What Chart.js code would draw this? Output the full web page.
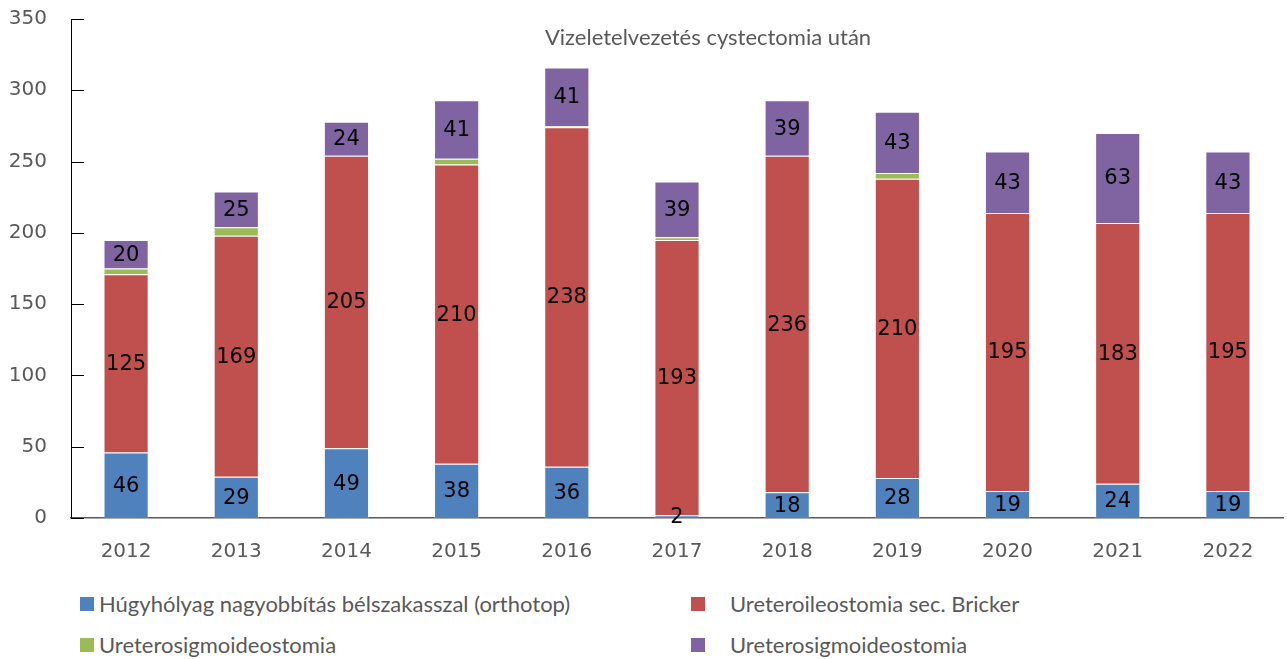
<!DOCTYPE html>
<html>
<head>
<meta charset="utf-8">
<script src="https://cdn.jsdelivr.net/npm/chart.js@4"></script>
<style>
  body { margin: 0; background: #fff; }
  #wrap { position: absolute; left: 0; top: 0; width: 1287px; height: 580px; }
  .leg { position: absolute; font: 22px Lato, sans-serif; color: #595959; white-space: nowrap; line-height: 26px; }
  .leg span { position: absolute; width: 14px; height: 14px; left: 0; top: 6px; }
</style>
</head>
<body>
<div id="wrap"><canvas id="chart" width="1287" height="580"></canvas></div>
<div id="legend"></div>
<script>
const years = ['2012', '2013', '2014', '2015', '2016', '2017', '2018', '2019', '2020', '2021', '2022'];
const orthotop = [46, 29, 49, 38, 36, 2, 18, 28, 19, 24, 19];
const bricker = [125, 169, 205, 210, 238, 193, 236, 210, 195, 183, 195];
const sigmoidGreen = [4, 6, 0, 4, 1, 2, 0, 4, 0, 0, 0];
const sigmoidPurple = [20, 25, 24, 41, 41, 39, 39, 43, 43, 63, 43];
const yTicks = [0, 50, 100, 150, 200, 250, 300, 350];
const chartTitle = 'Vizeletelvezetés cystectomia után';

const seriesNames = [
  'Húgyhólyag nagyobbítás bélszakasszal (orthotop)',
  'Ureteroileostomia sec. Bricker',
  'Ureterosigmoideostomia',
  'Ureterosigmoideostomia'
];
const colors = ['#4f81bd', '#c0504d', '#9bbb59', '#8064a2'];
const values = [orthotop, bricker, sigmoidGreen, sigmoidPurple];

// labels in the middle of each segment (not on the thin green one)
const segmentLabels = {
  id: 'segmentLabels',
  afterDatasetsDraw(chart) {
    const ctx = chart.ctx;
    ctx.save();
    ctx.font = '21px "DejaVu Sans"';
    ctx.fillStyle = '#000';
    ctx.textAlign = 'center';
    ctx.textBaseline = 'middle';
    chart.data.datasets.forEach((ds, i) => {
      if (i === 2) return;
      chart.getDatasetMeta(i).data.forEach((bar, j) => {
        const v = ds.data[j];
        if (!v) return;
        ctx.fillText(String(v), bar.x, (bar.y + bar.base) / 2 + 1);
      });
    });
    ctx.restore();
  }
};

// title inside the plot + inward y ticks
const extras = {
  id: 'extras',
  afterDraw(chart) {
    const ctx = chart.ctx;
    const area = chart.chartArea;
    const y = chart.scales.y;
    ctx.save();
    ctx.strokeStyle = '#000';
    ctx.lineWidth = 1;
    yTicks.forEach(t => {
      const py = Math.round(y.getPixelForValue(t)) + 0.5;
      ctx.beginPath();
      ctx.moveTo(area.left, py);
      ctx.lineTo(area.left + 13, py);
      ctx.stroke();
    });
    ctx.font = '22px Lato';
    ctx.fillStyle = '#595959';
    ctx.textAlign = 'center';
    ctx.textBaseline = 'middle';
    ctx.fillText(chartTitle, area.left + area.width * 0.5256, area.top + 19);
    ctx.restore();
  }
};

new Chart(document.getElementById('chart'), {
  type: 'bar',
  data: {
    labels: years,
    datasets: values.map((d, i) => ({
      label: seriesNames[i],
      data: d,
      backgroundColor: colors[i],
      borderColor: 'rgba(255,255,255,0.35)',
      borderWidth: 1,
      barPercentage: 0.41,
      categoryPercentage: 1
    }))
  },
  options: {
    responsive: false,
    animation: false,
    layout: { padding: { top: 19, right: 4, left: 0, bottom: 0 } },
    plugins: { legend: { display: false }, tooltip: { enabled: false } },
    scales: {
      x: {
        stacked: true,
        grid: { display: false, drawTicks: false },
        border: { display: true, color: '#595959', width: 1.5 },
        ticks: { color: '#595959', font: { family: 'DejaVu Sans', size: 20 }, padding: 22 },
        afterFit(s) { s.height = 62; }
      },
      y: {
        stacked: true,
        min: 0,
        max: 350,
        grid: { display: false, drawTicks: false },
        border: { display: true, color: '#000', width: 1 },
        ticks: {
          stepSize: 50,
          color: '#595959',
          font: { family: 'DejaVu Sans', size: 20 },
          padding: 24
        },
        afterBuildTicks(s) { s.ticks = yTicks.map(v => ({ value: v })); },
        afterFit(s) { s.width = 71; s.paddingTop = 0; s.paddingBottom = 0; }
      }
    }
  },
  plugins: [segmentLabels, extras]
});

// legend in two columns below the chart
const legendPos = [[80, 591], [691, 591], [80, 632], [691, 632]];
const textGap = [19, 39, 19, 39];
const legend = document.getElementById('legend');
seriesNames.forEach((name, i) => {
  const el = document.createElement('div');
  el.className = 'leg';
  el.style.left = legendPos[i][0] + 'px';
  el.style.top = legendPos[i][1] + 'px';
  el.style.paddingLeft = textGap[i] + 'px';
  el.innerHTML = '<span style="background:' + colors[i] + '"></span>' + name;
  legend.appendChild(el);
});
</script>
</body>
</html>
